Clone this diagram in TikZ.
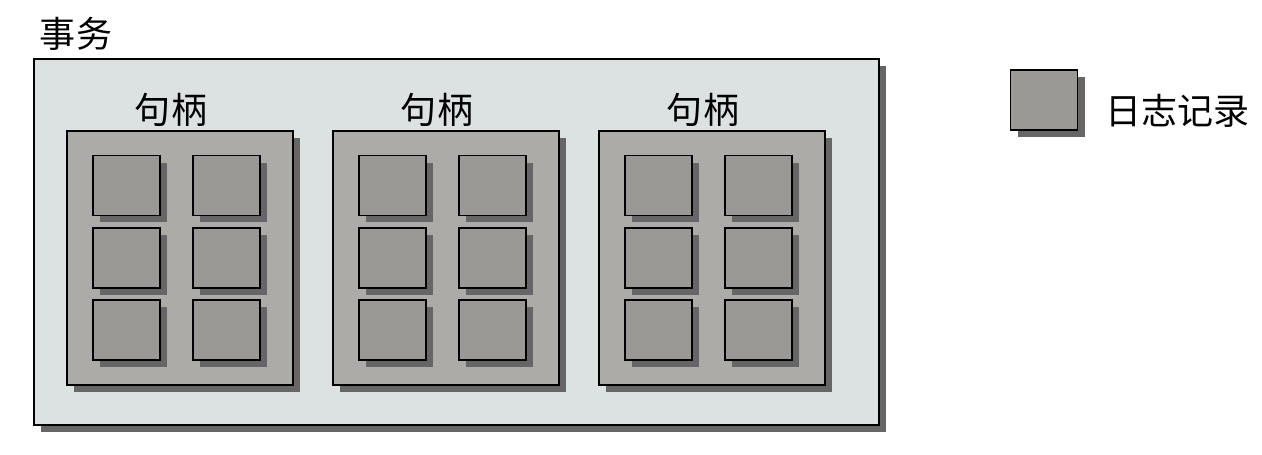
\documentclass[tikz,border=0pt]{standalone}
\usepackage{fontspec}
\newfontfamily\cjk{Noto Sans CJK SC}
\usepackage{tikz}
\usetikzlibrary{shapes,positioning,shadows}
\usepackage{xcolor}
\definecolor{txbg}{HTML}{DCE1E1}
\definecolor{hdbg}{HTML}{ADABA7}
\definecolor{recbg}{HTML}{9B9995}
\definecolor{shade}{HTML}{666666}

\begin{document}
\begin{tikzpicture}[
    x=0.02cm, y=-0.02cm,
    shad/.style={drop shadow={shadow xshift=0.14cm, shadow yshift=-0.14cm, fill=shade, opacity=1}},
    txbox/.style={rectangle, draw, line width=1pt, fill=txbg, minimum width=16.9cm, minimum height=7.32cm, shad},
    hdbox/.style={rectangle, draw, line width=1pt, fill=hdbg, minimum width=4.52cm, minimum height=5.08cm, shad},
    rec/.style={rectangle, draw, line width=1pt, fill=recbg, minimum width=1.34cm, minimum height=1.2cm, shad},
    lbl/.style={font=\cjk\fontsize{20.5}{22}\selectfont, inner sep=0pt}
  ]
    \useasboundingbox (0,0) rectangle (1262,454);

    % transaction
    \node[txbox] (tx) at (456.5,242) {};
    \node[lbl] (txlbl) at (76,34) {事务};

    % handles with their records
    \foreach \h/\cx in {1/180, 2/446, 3/712} {
      \node[hdbox] (hd\h) at (\cx,258) {};
      \node[lbl] (hdlbl\h) at (\cx-9,110) {句柄};
      \foreach \c/\dx in {1/-53.5, 2/46.5}
        \foreach \r/\cy in {1/185.5, 2/258, 3/330}
          \node[rec] (rec\h\c\r) at (\cx+\dx,\cy) {};
    }

    % legend
    \node[rec] (legrec) at (1044,100) {};
    \node[lbl, right=0.54cm of legrec.east, anchor=west, yshift=-0.22cm] (leglbl) {日志记录};
  \end{tikzpicture}
\end{document}
